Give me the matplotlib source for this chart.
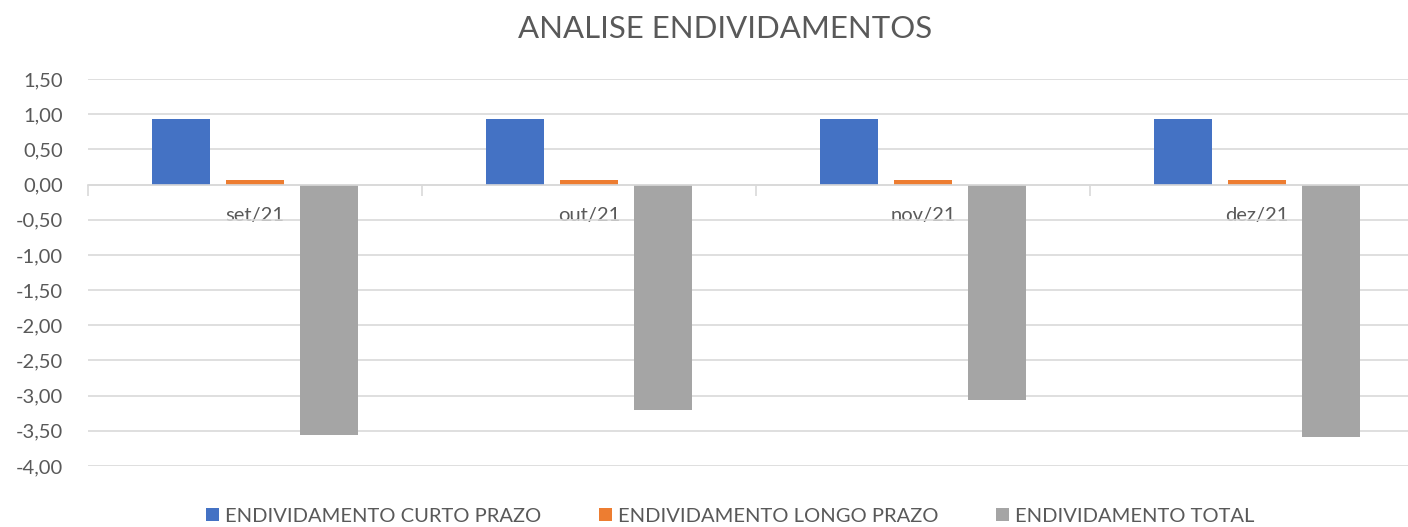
import numpy as np
import matplotlib.pyplot as plt
from matplotlib.ticker import FuncFormatter

plt.rcParams['font.family'] = ['Lato', 'DejaVu Sans']

# dados
meses = ['set/21', 'out/21', 'nov/21', 'dez/21']
curto_prazo = [0.93, 0.93, 0.93, 0.93]
longo_prazo = [0.07, 0.07, 0.06, 0.06]
total = [-3.56, -3.21, -3.06, -3.59]
series = ['ENDIVIDAMENTO CURTO PRAZO', 'ENDIVIDAMENTO LONGO PRAZO', 'ENDIVIDAMENTO TOTAL']
cores = ['#4472C4', '#ED7D31', '#A5A5A5']

texto = '#595959'
grade = '#D9D9D9'
fs = 14.5

fig = plt.figure(figsize=(14.08, 5.27), dpi=100)
ax = fig.add_axes([88 / 1408, 1 - 466 / 527, 1336 / 1408, (466 - 79) / 527])

x = np.arange(len(meses))
largura = 0.174
passo = 0.222
for k, (vals, nome, cor) in enumerate(zip([curto_prazo, longo_prazo, total], series, cores)):
    ax.bar(x + (k - 1) * passo, vals, largura, color=cor, label=nome, zorder=3)

ax.set_xlim(-0.5, len(meses) - 0.5)
ax.set_ylim(-4.0, 1.5)
ax.set_yticks(np.arange(-4.0, 1.51, 0.5))
ax.yaxis.set_major_formatter(FuncFormatter(lambda v, p: f'{v:.2f}'.replace('.', ',')))
ax.tick_params(axis='y', length=0, pad=18, labelsize=fs, labelcolor=texto)
ax.grid(axis='y', color=grade, linewidth=1.2, zorder=0)

# eixo x na linha do zero
for s in ['left', 'right', 'top']:
    ax.spines[s].set_visible(False)
ax.spines['bottom'].set_position(('data', 0))
ax.spines['bottom'].set_color(grade)
ax.spines['bottom'].set_linewidth(1.2)
ax.spines['bottom'].set_zorder(4)
ax.set_xticks(np.arange(-0.5, len(meses), 1.0))
ax.set_xticklabels([])
ax.tick_params(axis='x', which='major', length=8, width=1.2, color=grade, direction='out')
ax.set_xticks(x, minor=True)
ax.set_xticklabels(meses, minor=True)
ax.tick_params(axis='x', which='minor', length=0, pad=16, labelsize=fs, labelcolor=texto)

fig.text(725 / 1408, 1 - 38 / 527, 'ANALISE ENDIVIDAMENTOS', ha='center', va='baseline',
         fontsize=22.4, color=texto)

leg = fig.legend(loc='center', bbox_to_anchor=(730 / 1408, 1 - 516 / 527), ncol=3,
                 frameon=False, fontsize=fs, handlelength=0.65, handleheight=0.65,
                 handletextpad=0.3, columnspacing=2.85, borderpad=0)
for t in leg.get_texts():
    t.set_color(texto)

fig.savefig('out.png', dpi=100)
